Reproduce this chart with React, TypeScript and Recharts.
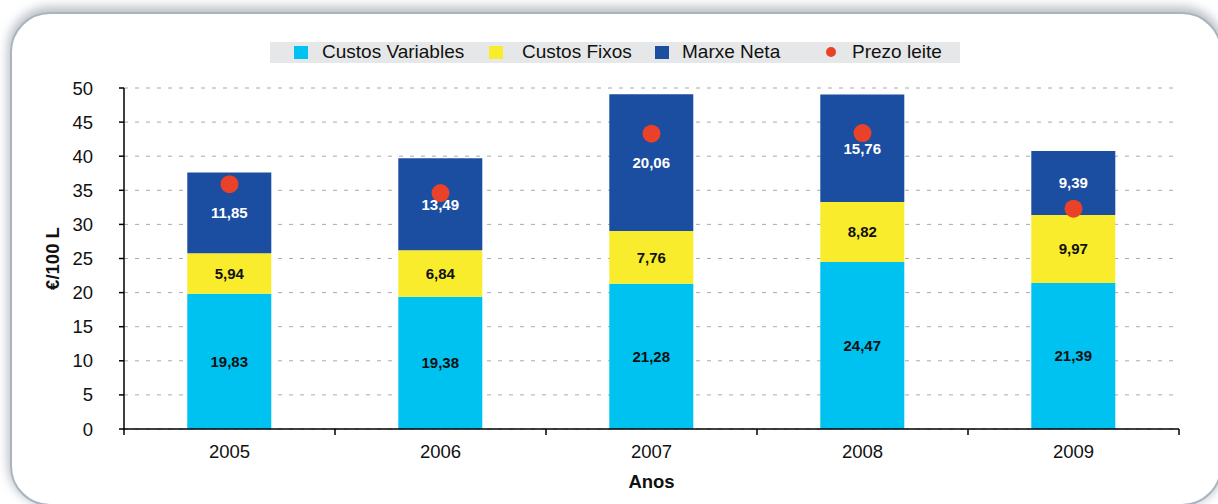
import React from 'react';
import { ComposedChart, Bar, Line, XAxis, YAxis, CartesianGrid, LabelList } from 'recharts';

const years = ['2005', '2006', '2007', '2008', '2009'];
const custosVariables = [19.83, 19.38, 21.28, 24.47, 21.39];
const custosFixos = [5.94, 6.84, 7.76, 8.82, 9.97];
const marxeNeta = [11.85, 13.49, 20.06, 15.76, 9.39];
const prezoLeite = [35.9, 34.6, 43.3, 43.4, 32.3];
const yTicks = [0, 5, 10, 15, 20, 25, 30, 35, 40, 45, 50];

const seriesNames = ['Custos Variables', 'Custos Fixos', 'Marxe Neta', 'Prezo leite'];
const colors = ['#00C2F0', '#F9EC2C', '#1B4DA0', '#EA4129'];

const data = years.map((y, i) => ({
  year: y,
  cv: custosVariables[i],
  cf: custosFixos[i],
  mn: marxeNeta[i],
  pl: prezoLeite[i],
}));

const FONT = '"Liberation Sans", Arial, Helvetica, sans-serif';
const fmt = (v: any) => Number(v).toFixed(2).replace('.', ',');

const W = 1218;
const H = 504;
const margin = { top: 88, right: 39, bottom: 0, left: 64 };
const YW = 60;
const plotW = W - margin.left - margin.right - YW;
const band = plotW / years.length;

const legendMarkX = [294, 489, 655, 826];
const legendTextX = [322, 522, 682, 852];

const XTick = (props: any) => {
  const { x, y, payload, index } = props;
  return (
    <g>
      <line x1={x - band / 2} x2={x - band / 2} y1={y - 16} y2={y - 10} stroke="#000" strokeWidth={1.5} />
      {index === years.length - 1 && (
        <line x1={x + band / 2} x2={x + band / 2} y1={y - 16} y2={y - 10} stroke="#000" strokeWidth={1.5} />
      )}
      <text x={x} y={y} dy="0.71em" textAnchor="middle" fill="#111" fontSize={18.5} fontFamily={FONT}>
        {payload.value}
      </text>
    </g>
  );
};

const labelStyle = (fill: string) => ({ fontWeight: 700, fontSize: 15, fill, fontFamily: FONT });

export default function App() {
  return (
    <div style={{ position: 'absolute', left: 0, top: 0, width: W, height: H, overflow: 'hidden', background: '#fff', fontFamily: FONT }}>
      <div
        style={{
          position: 'absolute',
          left: 10,
          top: 12,
          width: 1212,
          height: 494,
          borderRadius: 40,
          border: '2.5px solid #a9b4bf',
          background: '#fff',
          boxShadow: '0 -3px 10px 3px rgba(140,150,160,0.55)',
          boxSizing: 'border-box',
        }}
      />
      <div
        style={{
          position: 'absolute',
          left: 270,
          top: 42,
          width: 690,
          height: 21,
          background: '#E6E7E8',
        }}
      />
      {seriesNames.map((n, i) => (
        <React.Fragment key={n}>
          <div
            style={{
              position: 'absolute',
              left: legendMarkX[i],
              top: i === 3 ? 47 : 45.5,
              width: i === 3 ? 10 : 13.5,
              height: i === 3 ? 10 : 13,
              borderRadius: i === 3 ? 5 : 0,
              background: colors[i],
            }}
          />
          <div
            style={{
              position: 'absolute',
              left: legendTextX[i],
              top: 40,
              height: 24,
              lineHeight: '24px',
              fontSize: 19,
              color: '#111',
              whiteSpace: 'nowrap',
            }}
          >
            {n}
          </div>
        </React.Fragment>
      ))}
      <div style={{ position: 'absolute', left: 0, top: 0 }}>
        <ComposedChart width={W} height={H} data={data} margin={margin} barCategoryGap="30%">
          <CartesianGrid horizontal vertical={false} stroke="#aaaaaa" strokeDasharray="4 7" yAxisId="left" xAxisId="bottom" />
          <XAxis
            dataKey="year"
            xAxisId="bottom"
            height={75}
            axisLine={{ stroke: '#000', strokeWidth: 1.5 }}
            tickLine={false}
            tickSize={0}
            tickMargin={16}
            tick={<XTick />}
            interval={0}
            label={{ value: 'Anos', position: 'insideBottom', offset: 16, style: { fontWeight: 700, fontSize: 18.5, fill: '#111', fontFamily: FONT } }}
          />
          <XAxis dataKey="year" xAxisId="top" orientation="top" height={0} tick={false} tickLine={false} axisLine={{ stroke: '#000', strokeWidth: 1.5 }} />
          <YAxis
            yAxisId="left"
            width={YW}
            domain={[0, 50]}
            ticks={yTicks}
            interval={0}
            axisLine={{ stroke: '#000', strokeWidth: 1.5 }}
            tickLine={{ stroke: '#000', strokeWidth: 1.5 }}
            tickSize={5}
            tickMargin={26}
            tick={{ fontSize: 18.5, fill: '#111', fontFamily: FONT }}
            label={{ value: '€/100 L', angle: -90, position: 'insideLeft', offset: -12, style: { fontWeight: 700, fontSize: 18.5, fill: '#111', fontFamily: FONT, textAnchor: 'middle' } }}
          />
          <YAxis yAxisId="right" orientation="right" width={0} domain={[0, 50]} tick={false} tickLine={false} axisLine={{ stroke: '#000', strokeWidth: 1.5 }} />
          <Bar dataKey="cv" stackId="a" fill={colors[0]} xAxisId="bottom" yAxisId="left" isAnimationActive={false}>
            <LabelList dataKey="cv" position="center" formatter={fmt} style={labelStyle('#111')} />
          </Bar>
          <Bar dataKey="cf" stackId="a" fill={colors[1]} xAxisId="bottom" yAxisId="left" isAnimationActive={false}>
            <LabelList dataKey="cf" position="center" formatter={fmt} style={labelStyle('#111')} />
          </Bar>
          <Bar dataKey="mn" stackId="a" fill={colors[2]} xAxisId="bottom" yAxisId="left" isAnimationActive={false}>
            <LabelList dataKey="mn" position="center" formatter={fmt} style={labelStyle('#fff')} />
          </Bar>
          <Line
            dataKey="pl"
            xAxisId="bottom"
            yAxisId="left"
            stroke="none"
            strokeWidth={0}
            dot={{ r: 9, fill: colors[3], stroke: 'none' }}
            activeDot={false}
            isAnimationActive={false}
          />
        </ComposedChart>
      </div>
    </div>
  );
}
